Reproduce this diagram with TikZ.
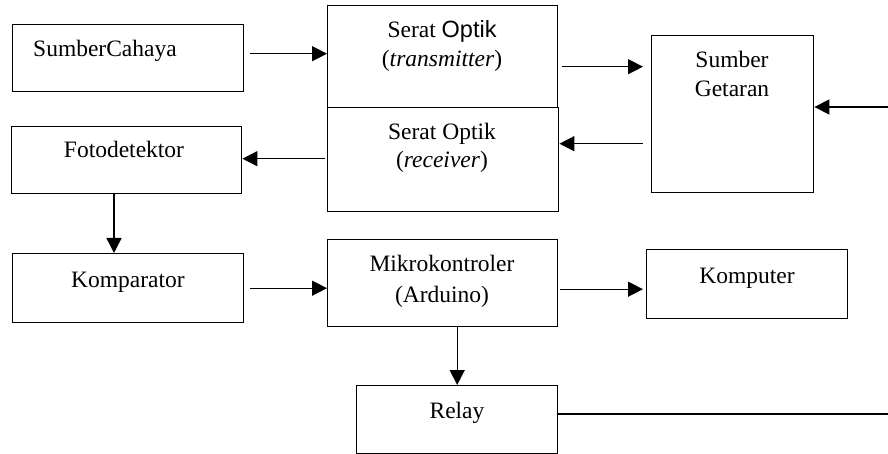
\documentclass[tikz,border=0pt]{standalone}
\usepackage{fontspec}
\setmainfont{Liberation Serif}
\newfontfamily\arialfont{Liberation Sans}
\usetikzlibrary{arrows.meta,calc}
\tikzset{
  blk/.style={draw, line width=1.4pt, inner sep=0pt, anchor=north west},
  lbl/.style={inner sep=0pt, anchor=base, font=\fontsize{23.5}{28}\selectfont},
  arr/.style={line width=1.4pt, -{Triangle[length=15pt,width=15pt]}},
  ln/.style={line width=1.4pt}
}
\begin{document}
\begin{tikzpicture}[x=1pt,y=-1pt]
\useasboundingbox (0,0) rectangle (888,454);
% boxes
\node[blk, minimum width=231pt, minimum height=67pt] (sc) at (12,24) {};
\node[blk, minimum width=230pt, minimum height=67pt] (fd) at (11,126) {};
\node[blk, minimum width=230pt, minimum height=102pt] (tx) at (327,5) {};
\node[blk, minimum width=231pt, minimum height=104pt] (rx) at (327,107) {};
\node[blk, minimum width=162pt, minimum height=157pt] (sg) at (651,35) {};
\node[blk, minimum width=231pt, minimum height=69pt] (kp) at (12,253) {};
\node[blk, minimum width=230pt, minimum height=87pt] (mk) at (327,239) {};
\node[blk, minimum width=201pt, minimum height=69pt] (km) at (646,249) {};
\node[blk, minimum width=201pt, minimum height=68pt] (rl) at (356,385) {};
% labels
\node[lbl, anchor=base west] (tsc) at (33,57) {SumberCahaya};
\node[lbl] (tfd) at (124,158) {Fotodetektor};
\node[lbl] (ttx1) at (442,38) {Serat {\arialfont Optik}};
\node[lbl] (ttx2) at (442,67) {(\textit{transmitter})};
\node[lbl] (trx1) at (442,140) {Serat Optik};
\node[lbl] (trx2) at (442,168) {(\textit{receiver})};
\node[lbl] (tsg1) at (732,68) {Sumber};
\node[lbl] (tsg2) at (732,97) {Getaran};
\node[lbl] (tkp) at (128,287) {Komparator};
\node[lbl] (tmk1) at (442,272) {Mikrokontroler};
\node[lbl] (tmk2) at (442,302) {(Arduino)};
\node[lbl] (tkm) at (747,283) {Komputer};
\node[lbl] (trl) at (457,418) {Relay};
% free ends
\coordinate (rin) at (888,107);
\coordinate (rout) at (888,414);
% connectors
\draw[arr] ($(sc.east)+(6,-4.5)$) -- ($(tx.west |- sc.east)+(0,-4.5)$);
\draw[arr] ($(tx.east)+(4,10)$) -- ($(sg.west |- tx.east)+(-8,10)$);
\draw[arr] ($(sg.west |- rx.east)+(-8,-16)$) -- ($(rx.east)+(0,-16)$);
\draw[arr] ($(rx.west)+(-2,-1)$) -- ($(fd.east |- rx.west)+(0,-1)$);
\draw[arr] (fd.south -| 114,0) -- (kp.north -| 114,0);
\draw[arr] ($(kp.east)+(6,0)$) -- ($(mk.west |- kp.east)$);
\draw[arr] ($(mk.east)+(2,6)$) -- ($(km.west |- mk.east)+(-3,6)$);
\draw[arr] (mk.south -| rl.north) -- (rl.north);
\draw[ln] (rl.east |- rout) -- (rout);
\draw[arr] (rin) -- (sg.east |- rin);
\end{tikzpicture}
\end{document}
